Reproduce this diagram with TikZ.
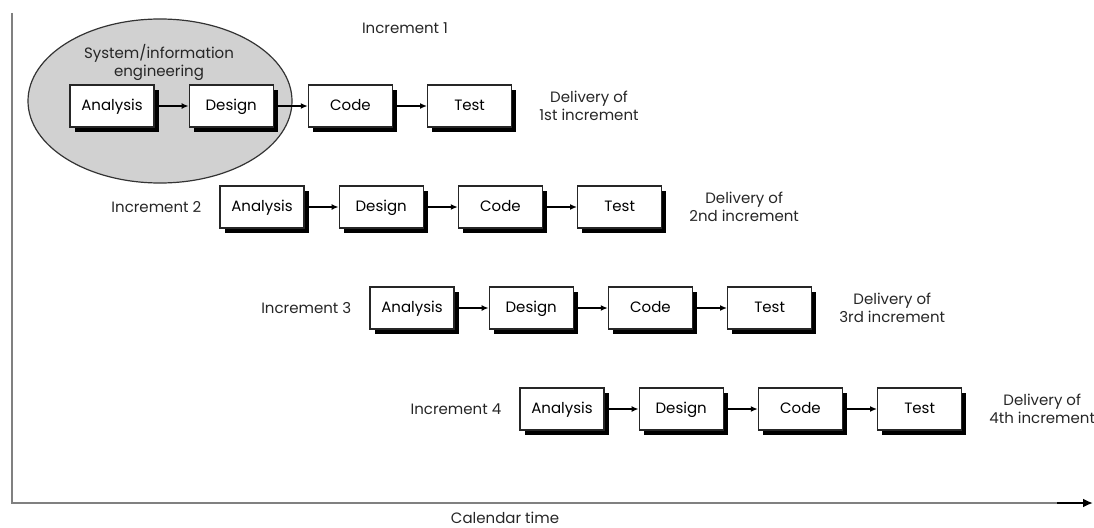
\documentclass[tikz,border=0pt]{standalone}
\usepackage{fontspec}
\setmainfont{Poppins}
\usetikzlibrary{positioning,shadows,arrows.meta}

\tikzset{
  phase/.style={draw=black!85, line width=1.2pt, fill=white,
    minimum width=84pt, minimum height=42pt, inner sep=0pt,
    text height=11pt, text depth=3pt,
    font=\fontsize{15}{18}\selectfont,
    drop shadow={shadow xshift=4.5pt, shadow yshift=-4.5pt, fill=black, opacity=1}},
  flow/.style={-{Latex[length=7pt,width=6pt]}, line width=1.8pt},
  lbl/.style={font=\fontsize{15}{18}\selectfont, text=black!85, inner sep=1pt},
}

\begin{document}
\begin{tikzpicture}[x=1pt,y=-1pt]
  \useasboundingbox (0,0) rectangle (1094,527);
  % axes
  \coordinate (orig) at (12,503);
  \coordinate (ytop) at (12,13);
  \coordinate (xtip) at (1093,503);
  \draw[black!50, line width=2pt] (ytop) -- (orig) -- (1057,503) coordinate (xblk);
  \draw[line width=2pt, -{Latex[length=10pt,width=9pt]}] (xblk) -- (xtip);
  \node[lbl] (caltime) at (505,518) {Calendar time};
  % system/information engineering
  \draw[black!80, line width=1.2pt, fill=black!18] (160,101) ellipse [x radius=132, y radius=82];
  \node[lbl, align=center] (sie) at (159,62) {System/information\\engineering};
  % increment 1
  \node[lbl] (inc1) at (405,28) {Increment 1};
  \node[phase] (a1) at (112,106) {Analysis};
  \node[phase, right=34pt of a1] (d1) {Design};
  \node[phase, right=34pt of d1] (c1) {Code};
  \node[phase, right=34pt of c1] (t1) {Test};
  \node[lbl, align=center, right=26pt of t1] (del1) {Delivery of\\1st increment};
  % increment 2
  \node[phase] (a2) at (262,207) {Analysis};
  \node[phase, right=34pt of a2] (d2) {Design};
  \node[phase, right=34pt of d2] (c2) {Code};
  \node[phase, right=34pt of c2] (t2) {Test};
  \node[lbl, left=17pt of a2] (inc2) {Increment 2};
  \node[lbl, align=center, right=26pt of t2] (del2) {Delivery of\\2nd increment};
  % increment 3
  \node[phase] (a3) at (412,308) {Analysis};
  \node[phase, right=34pt of a3] (d3) {Design};
  \node[phase, right=34pt of d3] (c3) {Code};
  \node[phase, right=34pt of c3] (t3) {Test};
  \node[lbl, left=17pt of a3] (inc3) {Increment 3};
  \node[lbl, align=center, right=26pt of t3] (del3) {Delivery of\\3rd increment};
  % increment 4
  \node[phase] (a4) at (562,409) {Analysis};
  \node[phase, right=34pt of a4] (d4) {Design};
  \node[phase, right=34pt of d4] (c4) {Code};
  \node[phase, right=34pt of c4] (t4) {Test};
  \node[lbl, left=17pt of a4] (inc4) {Increment 4};
  \node[lbl, align=center, right=26pt of t4] (del4) {Delivery of\\4th increment};
  % flows
  \draw[flow] (a1) -- (d1);
  \draw[flow] (d1) -- (c1);
  \draw[flow] (c1) -- (t1);
  \draw[flow] (a2) -- (d2);
  \draw[flow] (d2) -- (c2);
  \draw[flow] (c2) -- (t2);
  \draw[flow] (a3) -- (d3);
  \draw[flow] (d3) -- (c3);
  \draw[flow] (c3) -- (t3);
  \draw[flow] (a4) -- (d4);
  \draw[flow] (d4) -- (c4);
  \draw[flow] (c4) -- (t4);
\end{tikzpicture}
\end{document}
